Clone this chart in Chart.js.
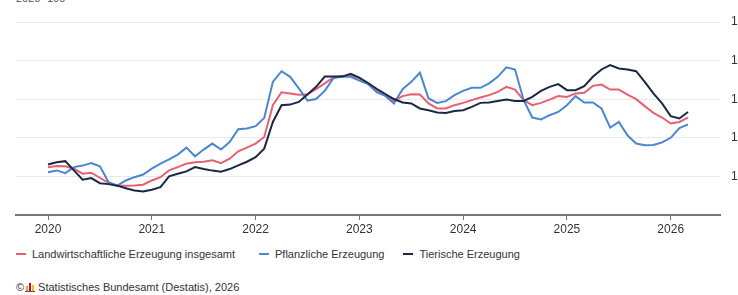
<!DOCTYPE html>
<html>
<head>
<meta charset="utf-8">
<script src="https://cdn.jsdelivr.net/npm/chart.js@4.4.1/dist/chart.umd.min.js"></script>
<style>
  html, body { margin: 0; padding: 0; background: #fff; width: 738px; height: 295px; overflow: hidden; }
  #wrap { position: relative; width: 738px; height: 295px; overflow: hidden; font-family: "Liberation Sans", Arial, sans-serif; }
  #chartBox { position: absolute; left: 0; top: 0; width: 760px; height: 240px; }
  #unit { position: absolute; left: 16px; top: -8px; font-size: 11px; color: #555; }
  #legend { position: absolute; left: 16px; top: 248px; font-size: 11px; color: #333; white-space: nowrap; display: flex; align-items: center; }
  .item { display: flex; align-items: center; }
  .dash { display: inline-block; width: 10px; height: 2px; margin-right: 6px; }
  #footer { position: absolute; left: 16px; top: 281px; font-size: 11px; color: #333; white-space: nowrap; }
  #logo { display: inline-block; position: relative; width: 10px; height: 10px; vertical-align: -1px; margin: 0 3px 0 1px; }
  #logo span { position: absolute; bottom: 1px; width: 2px; }
</style>
</head>
<body>
<div id="wrap">
  <div id="unit">2020=100</div>
  <div id="chartBox"><canvas id="c"></canvas></div>
  <div id="legend"></div>
  <div id="footer">©<span id="logo"><span style="left:1px;height:5px;background:#e4a11b"></span><span style="left:4px;height:8px;background:#e2001a"></span><span style="left:7px;height:6px;background:#f3c300"></span><span style="left:0;width:10px;height:1px;bottom:0;background:#555"></span></span>Statistisches Bundesamt (Destatis), 2026</div>
</div>
<script>
// Monthly index values, January 2020 to March 2026 (2020 = 100)
const startYear = 2020;
const yearLabels = ["2020", "2021", "2022", "2023", "2024", "2025", "2026"];
const seriesNames = ["Landwirtschaftliche Erzeugung insgesamt", "Pflanzliche Erzeugung", "Tierische Erzeugung"];
const yTicks = [80, 100, 120, 140, 160, 180];

const insgesamt = [
  104.8, 105.4, 105.2, 104.0, 101.4, 101.9, 99.3, 96.7, 95.3, 95.2, 95.3, 95.7,
  97.9, 99.6, 103.1, 104.8, 106.6, 107.3, 107.6, 108.3, 106.9, 109.2, 113.0, 114.9,
  117.0, 120.4, 136.9, 143.6, 143.0, 142.3, 142.6, 145.2, 148.2, 151.3, 152.0, 152.2,
  150.8, 148.3, 144.7, 142.1, 139.2, 141.6, 142.6, 142.4, 137.8, 135.2, 135.2, 136.9,
  138.1, 139.5, 140.9, 142.1, 143.8, 146.4, 145.0, 139.5, 136.9, 138.1, 139.8, 141.6,
  141.2, 143.0, 143.3, 146.9, 147.6, 145.0, 145.0, 142.4, 140.0, 136.4, 132.9, 130.5,
  127.4, 128.2, 130.5
];
const pflanzlich = [
  102.2, 103.1, 101.7, 104.8, 105.6, 106.9, 105.2, 97.0, 95.2, 97.9, 99.6, 101.0,
  104.0, 106.6, 108.8, 111.3, 114.9, 110.4, 113.9, 117.0, 113.9, 117.8, 124.4, 124.8,
  126.0, 130.3, 149.0, 154.5, 151.6, 145.6, 139.3, 140.1, 144.3, 150.9, 151.8, 151.6,
  149.6, 147.9, 143.6, 141.7, 137.8, 145.2, 149.0, 153.7, 140.4, 138.1, 139.0, 142.1,
  144.3, 145.9, 145.9, 148.2, 151.6, 156.5, 155.4, 139.5, 130.5, 129.5, 131.7, 133.4,
  136.9, 141.6, 138.3, 138.3, 135.2, 125.3, 128.2, 121.3, 117.0, 116.1, 116.3, 117.6,
  120.0, 125.0, 127.0
];
const tierisch = [
  106.2, 107.3, 107.9, 103.1, 98.3, 99.1, 96.5, 96.0, 95.2, 93.9, 92.7, 92.2,
  93.1, 94.4, 100.0, 101.4, 102.6, 104.8, 103.8, 103.0, 102.4, 103.8, 105.7, 107.6,
  110.0, 114.4, 128.2, 136.9, 137.2, 138.6, 142.4, 146.4, 151.7, 151.7, 151.7, 153.1,
  151.2, 148.4, 145.4, 142.7, 140.1, 138.3, 137.8, 135.2, 134.3, 133.1, 132.9, 133.9,
  134.3, 136.0, 138.1, 138.3, 139.1, 139.8, 139.1, 139.1, 141.2, 144.3, 146.4, 147.8,
  144.7, 144.7, 146.8, 151.6, 155.4, 157.7, 155.9, 155.4, 154.5, 149.0, 143.0, 137.8,
  131.2, 130.0, 133.4
];

const colors = ["#e8606f", "#4a86d2", "#1b2843"];
const legendGaps = [24, 19, 0];
const toPoints = arr => arr.map((v, i) => ({ x: i, y: v }));

const datasets = [insgesamt, pflanzlich, tierisch].map((arr, k) => ({
  label: seriesNames[k],
  data: toPoints(arr),
  borderColor: colors[k],
  backgroundColor: colors[k],
  borderWidth: 2,
  pointRadius: 0,
  tension: 0,
  order: 2 - k
}));

// HTML legend built from the same series names / colours
const legendEl = document.getElementById('legend');
seriesNames.forEach((name, k) => {
  const item = document.createElement('span');
  item.className = 'item';
  item.style.marginRight = legendGaps[k] + 'px';
  const dash = document.createElement('span');
  dash.className = 'dash';
  dash.style.background = colors[k];
  item.appendChild(dash);
  item.appendChild(document.createTextNode(name));
  legendEl.appendChild(item);
});

const fontFamily = '"Liberation Sans", Arial, sans-serif';

new Chart(document.getElementById('c'), {
  type: 'line',
  data: { datasets },
  options: {
    responsive: true,
    maintainAspectRatio: false,
    animation: false,
    layout: { padding: { top: 22, left: 16, right: 0, bottom: 0 } },
    plugins: {
      tooltip: { enabled: false },
      legend: { display: false }
    },
    scales: {
      x: {
        type: 'linear',
        min: -3.7,
        max: 77.7,
        afterBuildTicks(scale) {
          scale.ticks = yearLabels.map((y, i) => ({ value: i * 12 }));
        },
        afterFit(scale) { scale.height = 25; },
        ticks: {
          autoSkip: false,
          maxRotation: 0,
          font: { family: fontFamily, size: 12 },
          color: '#333',
          padding: 2,
          callback: (v) => yearLabels[Math.round(v / 12)]
        },
        grid: { drawOnChartArea: false, drawTicks: true, tickLength: 5, color: '#777', lineWidth: 1 },
        border: { display: true, color: '#777', width: 2 }
      },
      y: {
        position: 'right',
        min: yTicks[0],
        max: yTicks[yTicks.length - 1],
        afterBuildTicks(scale) { scale.ticks = yTicks.map(v => ({ value: v })); },
        afterFit(scale) { scale.width = 40; },
        ticks: {
          font: { family: fontFamily, size: 12 },
          color: '#333',
          padding: 11,
          callback: (v) => v === yTicks[0] ? '' : String(v)
        },
        grid: { color: '#e9e9e9', drawTicks: false, lineWidth: 1 },
        border: { display: false }
      }
    }
  }
});
</script>
</body>
</html>
